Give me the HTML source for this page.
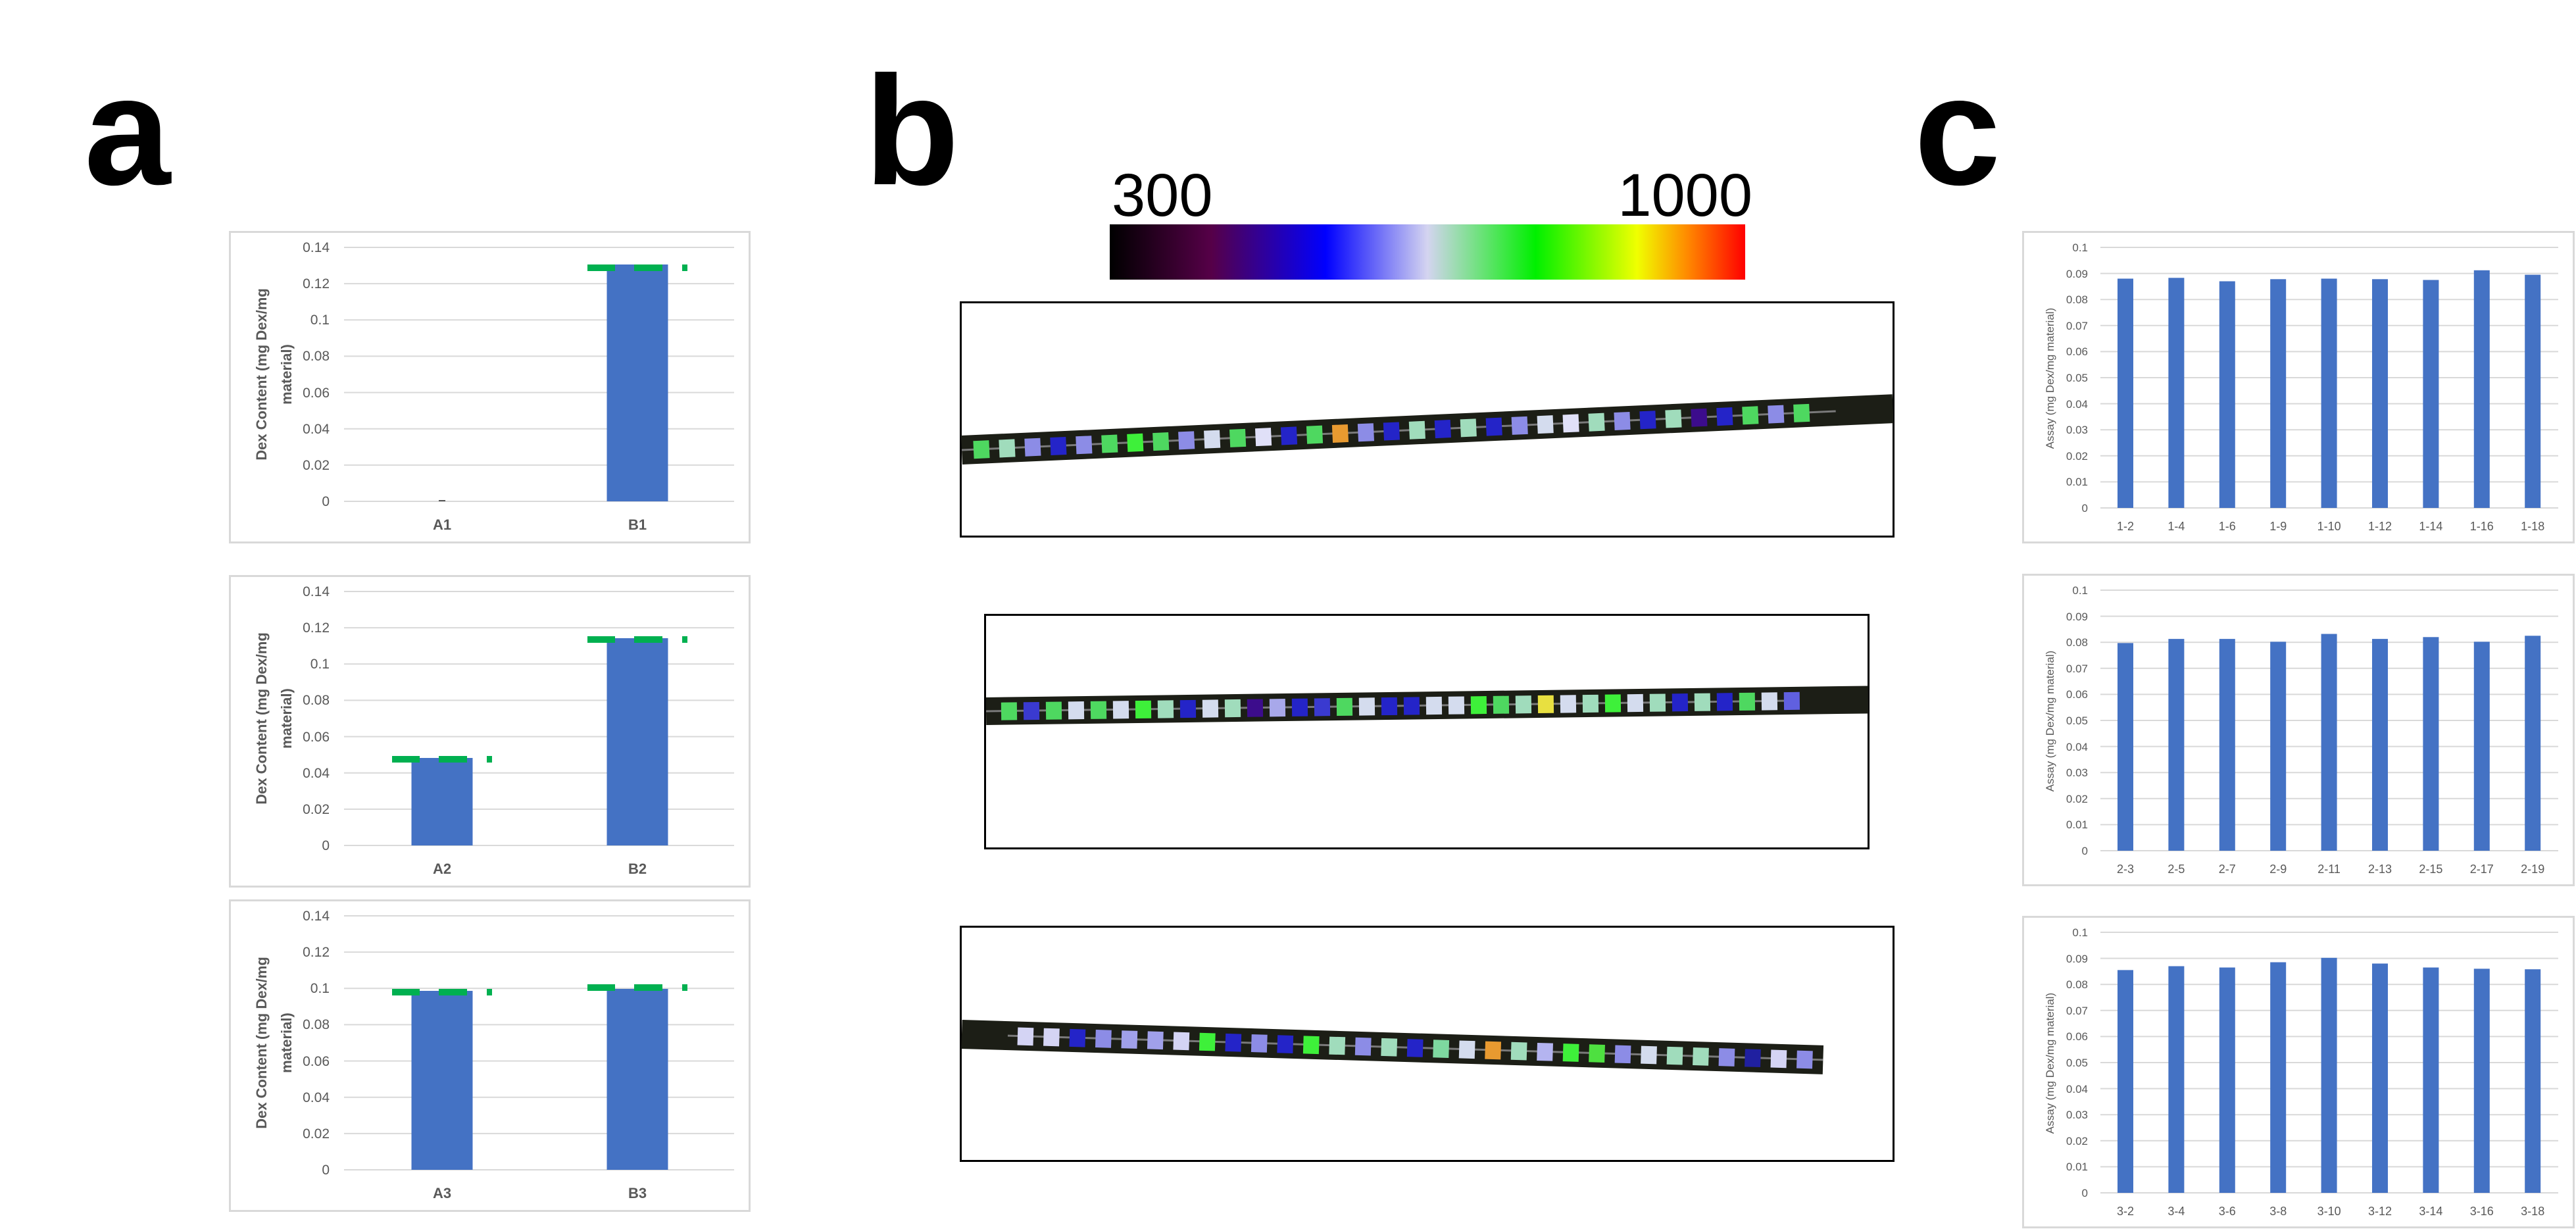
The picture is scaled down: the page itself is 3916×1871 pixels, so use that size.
<!DOCTYPE html>
<html><head><meta charset="utf-8"><style>
html,body{margin:0;padding:0;background:#fff;}
svg{display:block;}
.t{font-family:"Liberation Sans",Arial,sans-serif;}
.n{font-family:"Liberation Sans Narrow","Liberation Sans",sans-serif;}
</style></head><body>
<svg width="3916" height="1871" viewBox="0 0 3916 1871" xmlns="http://www.w3.org/2000/svg">
<defs>
<linearGradient id="cb" x1="0" x2="1" y1="0" y2="0">
<stop offset="0" stop-color="#000"/><stop offset="0.16" stop-color="#560048"/><stop offset="0.34" stop-color="#0000ff"/><stop offset="0.5" stop-color="#d4d4f0"/><stop offset="0.67" stop-color="#00f000"/><stop offset="0.83" stop-color="#f0ff00"/><stop offset="0.91" stop-color="#ff8800"/><stop offset="1" stop-color="#ff0000"/>
</linearGradient>
<g id="agrid">
<rect x="1.5" y="1.5" width="790" height="472" fill="#fff" stroke="#d9d9d9" stroke-width="3"/>
<g stroke="#d9d9d9" stroke-width="2">
<line x1="175" x2="768" y1="25" y2="25"/><line x1="175" x2="768" y1="80.1" y2="80.1"/><line x1="175" x2="768" y1="135.3" y2="135.3"/><line x1="175" x2="768" y1="190.4" y2="190.4"/><line x1="175" x2="768" y1="245.6" y2="245.6"/><line x1="175" x2="768" y1="300.7" y2="300.7"/><line x1="175" x2="768" y1="355.9" y2="355.9"/><line x1="175" x2="768" y1="411" y2="411"/>
</g>
<g class="t" font-size="21" fill="#595959" text-anchor="end">
<text x="153" y="32">0.14</text><text x="153" y="87">0.12</text><text x="153" y="142">0.1</text><text x="153" y="197">0.08</text><text x="153" y="253">0.06</text><text x="153" y="308">0.04</text><text x="153" y="363">0.02</text><text x="153" y="418">0</text>
</g>
<g class="t" font-size="22" font-weight="bold" fill="#595959" text-anchor="middle">
<text transform="translate(57,218) rotate(-90)">Dex Content (mg Dex/mg</text>
<text transform="translate(95,218) rotate(-90)">material)</text>
</g>
</g>
<g id="cgrid">
<rect x="1.5" y="1.5" width="837" height="472" fill="#fff" stroke="#d9d9d9" stroke-width="3"/>
<g stroke="#d9d9d9" stroke-width="2">
<line x1="119" x2="815" y1="25" y2="25"/><line x1="119" x2="815" y1="64.6" y2="64.6"/><line x1="119" x2="815" y1="104.2" y2="104.2"/><line x1="119" x2="815" y1="143.8" y2="143.8"/><line x1="119" x2="815" y1="183.4" y2="183.4"/><line x1="119" x2="815" y1="223" y2="223"/><line x1="119" x2="815" y1="262.6" y2="262.6"/><line x1="119" x2="815" y1="302.2" y2="302.2"/><line x1="119" x2="815" y1="341.8" y2="341.8"/><line x1="119" x2="815" y1="381.4" y2="381.4"/><line x1="119" x2="815" y1="421" y2="421"/>
</g>
<g class="t" font-size="17" fill="#595959" text-anchor="end">
<text x="100" y="31">0.1</text><text x="100" y="71">0.09</text><text x="100" y="110">0.08</text><text x="100" y="150">0.07</text><text x="100" y="189">0.06</text><text x="100" y="229">0.05</text><text x="100" y="269">0.04</text><text x="100" y="308">0.03</text><text x="100" y="348">0.02</text><text x="100" y="387">0.01</text><text x="100" y="427">0</text>
</g>
<text class="t" font-size="17" fill="#595959" text-anchor="middle" transform="translate(48,224) rotate(-90)">Assay (mg Dex/mg material)</text>
</g>
</defs>

<text class="t" x="128" y="280" font-size="236" font-weight="bold">a</text>
<text class="t" x="1314" y="280" font-size="236" font-weight="bold">b</text>
<text class="t" x="2910" y="280" font-size="236" font-weight="bold">c</text>

<g transform="translate(348,351)">
<use href="#agrid"/>
<rect x="319" y="409" width="10" height="2" fill="#555"/>
<rect x="574.5" y="51" width="93" height="360" fill="#4472c4"/>
<g fill="#00b050"><rect x="545" y="51" width="42" height="10"/><rect x="616" y="51" width="43" height="10"/><rect x="689" y="51" width="8" height="10"/></g>
<g class="t" font-size="22" font-weight="bold" fill="#595959" text-anchor="middle"><text x="324" y="454">A1</text><text x="621" y="454">B1</text></g>
</g>
<g transform="translate(348,874)">
<use href="#agrid"/>
<rect x="277.5" y="278" width="93" height="133" fill="#4472c4"/>
<rect x="574.5" y="96" width="93" height="315" fill="#4472c4"/>
<g fill="#00b050"><rect x="248" y="275" width="42" height="10"/><rect x="319" y="275" width="43" height="10"/><rect x="392" y="275" width="8" height="10"/>
<rect x="545" y="93" width="42" height="10"/><rect x="616" y="93" width="43" height="10"/><rect x="689" y="93" width="8" height="10"/></g>
<g class="t" font-size="22" font-weight="bold" fill="#595959" text-anchor="middle"><text x="324" y="454">A2</text><text x="621" y="454">B2</text></g>
</g>
<g transform="translate(348,1367)">
<use href="#agrid"/>
<rect x="277.5" y="139" width="93" height="272" fill="#4472c4"/>
<rect x="574.5" y="136" width="93" height="275" fill="#4472c4"/>
<g fill="#00b050"><rect x="248" y="136" width="42" height="10"/><rect x="319" y="136" width="43" height="10"/><rect x="392" y="136" width="8" height="10"/>
<rect x="545" y="129" width="42" height="10"/><rect x="616" y="129" width="43" height="10"/><rect x="689" y="129" width="8" height="10"/></g>
<g class="t" font-size="22" font-weight="bold" fill="#595959" text-anchor="middle"><text x="324" y="454">A3</text><text x="621" y="454">B3</text></g>
</g>

<text class="n" x="1690" y="328" font-size="92">300</text>
<text class="n" x="2664" y="328" font-size="92" text-anchor="end">1000</text>
<rect x="1687" y="341" width="966" height="84" fill="url(#cb)"/>

<rect x="1460.5" y="459.5" width="1418" height="356" fill="#fff" stroke="#000" stroke-width="3"/>
<rect x="1497.5" y="934.5" width="1343" height="355" fill="#fff" stroke="#000" stroke-width="3"/>
<rect x="1460.5" y="1408.5" width="1418" height="356" fill="#fff" stroke="#000" stroke-width="3"/>

<!-- tube 1 -->
<g transform="translate(1462,684) rotate(-2.54)">
<rect x="0" y="-22" width="1417" height="44" fill="#1c1e16"/>
<line x1="0" x2="1330" y1="0" y2="0" stroke="#7a7a7a" stroke-width="3"/>
<g>
<rect x="18" y="-13" width="24" height="27" fill="#4ed860"/><rect x="57" y="-13" width="24" height="27" fill="#a0dcbc"/><rect x="96" y="-13" width="24" height="27" fill="#8c8ce6"/><rect x="135" y="-13" width="24" height="27" fill="#2424c8"/><rect x="174" y="-13" width="24" height="27" fill="#8c8ce6"/><rect x="213" y="-13" width="24" height="27" fill="#4ed860"/><rect x="252" y="-13" width="24" height="27" fill="#3ef03a"/><rect x="291" y="-13" width="24" height="27" fill="#4ed860"/><rect x="330" y="-13" width="24" height="27" fill="#8c8ce6"/><rect x="369" y="-13" width="24" height="27" fill="#d4dcee"/><rect x="408" y="-13" width="24" height="27" fill="#4ed860"/><rect x="447" y="-13" width="24" height="27" fill="#e0e0f8"/><rect x="486" y="-13" width="24" height="27" fill="#2424c8"/><rect x="525" y="-13" width="24" height="27" fill="#4ed860"/><rect x="564" y="-13" width="24" height="27" fill="#e89a30"/><rect x="603" y="-13" width="24" height="27" fill="#8c8ce6"/><rect x="642" y="-13" width="24" height="27" fill="#2424c8"/><rect x="681" y="-13" width="24" height="27" fill="#a0dcbc"/><rect x="720" y="-13" width="24" height="27" fill="#2424c8"/><rect x="759" y="-13" width="24" height="27" fill="#a0dcbc"/><rect x="798" y="-13" width="24" height="27" fill="#2424c8"/><rect x="837" y="-13" width="24" height="27" fill="#8c8ce6"/><rect x="876" y="-13" width="24" height="27" fill="#d4dcee"/><rect x="915" y="-13" width="24" height="27" fill="#e0e0f8"/><rect x="954" y="-13" width="24" height="27" fill="#a0dcbc"/><rect x="993" y="-13" width="24" height="27" fill="#8c8ce6"/><rect x="1032" y="-13" width="24" height="27" fill="#2424c8"/><rect x="1071" y="-13" width="24" height="27" fill="#a0dcbc"/><rect x="1110" y="-13" width="24" height="27" fill="#3c0c8c"/><rect x="1149" y="-13" width="24" height="27" fill="#2424c8"/><rect x="1188" y="-13" width="24" height="27" fill="#4ed860"/><rect x="1227" y="-13" width="24" height="27" fill="#8c8ce6"/><rect x="1266" y="-13" width="24" height="27" fill="#4ed860"/>
</g>
</g>

<!-- tube 2 -->
<g transform="translate(1499,1081) rotate(-0.75)">
<rect x="0" y="-21" width="1341" height="42" fill="#1c1e16"/>
<line x1="0" x2="1230" y1="0" y2="0" stroke="#7a7a7a" stroke-width="3"/>
<rect x="23" y="-13" width="24" height="27" fill="#4ed860"/><rect x="57" y="-13" width="24" height="27" fill="#3a3ad0"/><rect x="91" y="-13" width="24" height="27" fill="#4ed860"/><rect x="125" y="-13" width="24" height="27" fill="#d4dcee"/><rect x="159" y="-13" width="24" height="27" fill="#4ed860"/><rect x="193" y="-13" width="24" height="27" fill="#d4dcee"/><rect x="227" y="-13" width="24" height="27" fill="#3ef03a"/><rect x="261" y="-13" width="24" height="27" fill="#a0dcbc"/><rect x="295" y="-13" width="24" height="27" fill="#2424c8"/><rect x="329" y="-13" width="24" height="27" fill="#d4dcee"/><rect x="363" y="-13" width="24" height="27" fill="#a0dcbc"/><rect x="397" y="-13" width="24" height="27" fill="#3c0c8c"/><rect x="431" y="-13" width="24" height="27" fill="#a8a8ea"/><rect x="465" y="-13" width="24" height="27" fill="#2424c8"/><rect x="499" y="-13" width="24" height="27" fill="#3a3ad0"/><rect x="533" y="-13" width="24" height="27" fill="#4ed860"/><rect x="567" y="-13" width="24" height="27" fill="#d4dcee"/><rect x="601" y="-13" width="24" height="27" fill="#2424c8"/><rect x="635" y="-13" width="24" height="27" fill="#2424c8"/><rect x="669" y="-13" width="24" height="27" fill="#d4dcee"/><rect x="703" y="-13" width="24" height="27" fill="#d4dcee"/><rect x="737" y="-13" width="24" height="27" fill="#3ef03a"/><rect x="771" y="-13" width="24" height="27" fill="#4ed860"/><rect x="805" y="-13" width="24" height="27" fill="#a0dcbc"/><rect x="839" y="-13" width="24" height="27" fill="#e8e040"/><rect x="873" y="-13" width="24" height="27" fill="#d4dcee"/><rect x="907" y="-13" width="24" height="27" fill="#a0dcbc"/><rect x="941" y="-13" width="24" height="27" fill="#3ef03a"/><rect x="975" y="-13" width="24" height="27" fill="#d4dcee"/><rect x="1009" y="-13" width="24" height="27" fill="#a0dcbc"/><rect x="1043" y="-13" width="24" height="27" fill="#2424c8"/><rect x="1077" y="-13" width="24" height="27" fill="#a0dcbc"/><rect x="1111" y="-13" width="24" height="27" fill="#2424c8"/><rect x="1145" y="-13" width="24" height="27" fill="#4ed860"/><rect x="1179" y="-13" width="24" height="27" fill="#d4dcee"/><rect x="1213" y="-13" width="24" height="27" fill="#6060e0"/>
</g>

<!-- tube 3 -->
<g transform="translate(1462,1572) rotate(1.7)">
<rect x="0" y="-22" width="1310" height="44" fill="#1c1e16"/>
<line x1="70" x2="1310" y1="0" y2="0" stroke="#7a7a7a" stroke-width="3"/>
<rect x="85" y="-13" width="24" height="27" fill="#d4d4f4"/><rect x="124.5" y="-13" width="24" height="27" fill="#d4d4f4"/><rect x="164" y="-13" width="24" height="27" fill="#2424c8"/><rect x="203.5" y="-13" width="24" height="27" fill="#8c8ce6"/><rect x="243" y="-13" width="24" height="27" fill="#a0a0ea"/><rect x="282.5" y="-13" width="24" height="27" fill="#a0a0ea"/><rect x="322" y="-13" width="24" height="27" fill="#d4d4f4"/><rect x="361.5" y="-13" width="24" height="27" fill="#3ef03a"/><rect x="401" y="-13" width="24" height="27" fill="#2424c8"/><rect x="440.5" y="-13" width="24" height="27" fill="#8c8ce6"/><rect x="480" y="-13" width="24" height="27" fill="#2424c8"/><rect x="519.5" y="-13" width="24" height="27" fill="#3ef03a"/><rect x="559" y="-13" width="24" height="27" fill="#a0dcbc"/><rect x="598.5" y="-13" width="24" height="27" fill="#8c8ce6"/><rect x="638" y="-13" width="24" height="27" fill="#a0dcbc"/><rect x="677.5" y="-13" width="24" height="27" fill="#2424c8"/><rect x="717" y="-13" width="24" height="27" fill="#7ed8a0"/><rect x="756.5" y="-13" width="24" height="27" fill="#d4dcee"/><rect x="796" y="-13" width="24" height="27" fill="#e89a30"/><rect x="835.5" y="-13" width="24" height="27" fill="#a0dcbc"/><rect x="875" y="-13" width="24" height="27" fill="#b4b4f0"/><rect x="914.5" y="-13" width="24" height="27" fill="#3ef03a"/><rect x="954" y="-13" width="24" height="27" fill="#4ee040"/><rect x="993.5" y="-13" width="24" height="27" fill="#8c8ce6"/><rect x="1033" y="-13" width="24" height="27" fill="#d4dcee"/><rect x="1072.5" y="-13" width="24" height="27" fill="#a0dcbc"/><rect x="1112" y="-13" width="24" height="27" fill="#a0dcbc"/><rect x="1151.5" y="-13" width="24" height="27" fill="#8c8ce6"/><rect x="1191" y="-13" width="24" height="27" fill="#2020a0"/><rect x="1230.5" y="-13" width="24" height="27" fill="#d4d4f4"/><rect x="1270" y="-13" width="24" height="27" fill="#8c8ce6"/>
</g>

<g transform="translate(3074,351)">
<use href="#cgrid"/>
<g fill="#4472c4">
<rect x="145" y="72.5" width="24" height="348.5"/><rect x="222.4" y="71.3" width="24" height="349.7"/><rect x="299.8" y="76.5" width="24" height="344.5"/><rect x="377.2" y="73.3" width="24" height="347.7"/><rect x="454.6" y="72.5" width="24" height="348.5"/><rect x="532" y="73.3" width="24" height="347.7"/><rect x="609.4" y="74.5" width="24" height="346.5"/><rect x="686.8" y="59.8" width="24" height="361.2"/><rect x="764.2" y="66.6" width="24" height="354.4"/>
</g>
<g class="t" font-size="18" fill="#595959" text-anchor="middle">
<text x="157" y="455">1-2</text><text x="234.4" y="455">1-4</text><text x="311.8" y="455">1-6</text><text x="389.2" y="455">1-9</text><text x="466.6" y="455">1-10</text><text x="544" y="455">1-12</text><text x="621.4" y="455">1-14</text><text x="698.8" y="455">1-16</text><text x="776.2" y="455">1-18</text>
</g>
</g>
<g transform="translate(3074,872)">
<use href="#cgrid"/>
<g fill="#4472c4">
<rect x="145" y="105.4" width="24" height="315.6"/><rect x="222.4" y="99.1" width="24" height="321.9"/><rect x="299.8" y="99.1" width="24" height="321.9"/><rect x="377.2" y="103.4" width="24" height="317.6"/><rect x="454.6" y="91.5" width="24" height="329.5"/><rect x="532" y="99.1" width="24" height="321.9"/><rect x="609.4" y="96.3" width="24" height="324.7"/><rect x="686.8" y="103.4" width="24" height="317.6"/><rect x="764.2" y="94.3" width="24" height="326.7"/>
</g>
<g class="t" font-size="18" fill="#595959" text-anchor="middle">
<text x="157" y="455">2-3</text><text x="234.4" y="455">2-5</text><text x="311.8" y="455">2-7</text><text x="389.2" y="455">2-9</text><text x="466.6" y="455">2-11</text><text x="544" y="455">2-13</text><text x="621.4" y="455">2-15</text><text x="698.8" y="455">2-17</text><text x="776.2" y="455">2-19</text>
</g>
</g>
<g transform="translate(3074,1392)">
<use href="#cgrid"/>
<g fill="#4472c4">
<rect x="145" y="82.4" width="24" height="338.6"/><rect x="222.4" y="76.5" width="24" height="344.5"/><rect x="299.8" y="78.5" width="24" height="342.5"/><rect x="377.2" y="70.5" width="24" height="350.5"/><rect x="454.6" y="63.8" width="24" height="357.2"/><rect x="532" y="72.5" width="24" height="348.5"/><rect x="609.4" y="78.5" width="24" height="342.5"/><rect x="686.8" y="80.4" width="24" height="340.6"/><rect x="764.2" y="81.2" width="24" height="339.8"/>
</g>
<g class="t" font-size="18" fill="#595959" text-anchor="middle">
<text x="157" y="455">3-2</text><text x="234.4" y="455">3-4</text><text x="311.8" y="455">3-6</text><text x="389.2" y="455">3-8</text><text x="466.6" y="455">3-10</text><text x="544" y="455">3-12</text><text x="621.4" y="455">3-14</text><text x="698.8" y="455">3-16</text><text x="776.2" y="455">3-18</text>
</g>
</g>
</svg>
</body></html>
